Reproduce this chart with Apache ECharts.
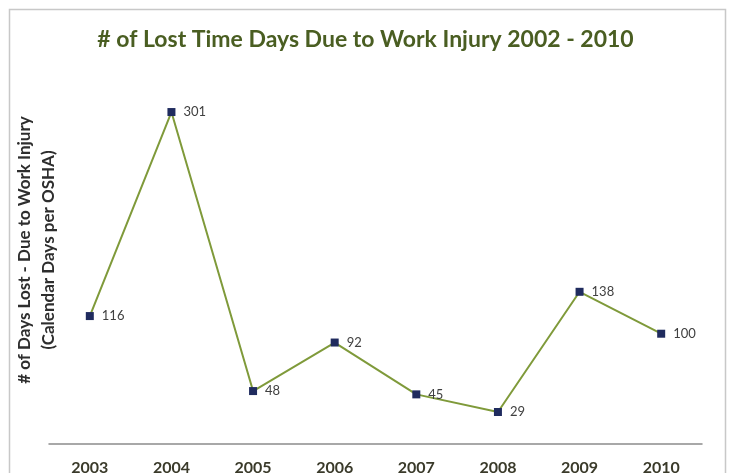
<!DOCTYPE html>
<html>
<head>
<meta charset="utf-8">
<script src="https://cdn.jsdelivr.net/npm/echarts@6/dist/echarts.min.js"></script>
<style>
  html, body { margin: 0; padding: 0; background: #ffffff; }
  #chart { width: 731px; height: 473px; }
</style>
</head>
<body>
<div id="chart"></div>
<script>
// Lost time days per year due to work injury
var years = ['2003', '2004', '2005', '2006', '2007', '2008', '2009', '2010'];
var lostDays = [116, 301, 48, 92, 45, 29, 138, 100];

var chart = echarts.init(document.getElementById('chart'));

chart.setOption({
  backgroundColor: '#ffffff',
  animation: false,
  title: {
    text: '# of Lost Time Days Due to Work Injury 2002 - 2010',
    left: 'center',
    top: 23,
    textStyle: {
      fontFamily: 'Lato',
      fontWeight: 'bold',
      fontSize: 23,
      color: '#4a5e22'
    }
  },
  grid: { left: 49, right: 29, top: 58, bottom: 29, containLabel: false, outerBoundsMode: 'none' },
  xAxis: {
    type: 'category',
    data: years,
    boundaryGap: true,
    axisLine: { lineStyle: { color: '#8c8c8c', width: 1.5 } },
    axisTick: { show: false },
    axisLabel: {
      margin: 16,
      fontFamily: 'Lato',
      fontWeight: 'bold',
      fontSize: 16,
      color: '#3a3a2a'
    }
  },
  yAxis: {
    type: 'value',
    min: 0,
    max: 350,
    axisLine: { show: false },
    axisTick: { show: false },
    axisLabel: { show: false },
    splitLine: { show: false }
  },
  series: [{
    type: 'line',
    data: lostDays,
    symbol: 'rect',
    symbolSize: 8,
    itemStyle: { color: '#1f2b5e' },
    lineStyle: { color: '#7f9a3a', width: 2 },
    label: {
      show: true,
      position: 'right',
      distance: 8,
      fontFamily: 'Lato',
      fontSize: 13,
      color: '#404040'
    }
  }],
  graphic: [{
    // outer frame
    type: 'rect',
    shape: { x: 9.5, y: 9.5, width: 716, height: 480 },
    style: { fill: 'none', stroke: '#c8c8c8', lineWidth: 1.5 },
    silent: true
  }, {
    // y-axis title, first line
    type: 'text',
    x: 25,
    y: 250,
    rotation: Math.PI / 2,
    style: {
      text: '# of Days Lost - Due to Work Injury',
      font: 'bold 17px Lato',
      fill: '#2e2e2e',
      textAlign: 'center',
      textVerticalAlign: 'middle'
    }
  }, {
    // y-axis title, second line
    type: 'text',
    x: 49,
    y: 250,
    rotation: Math.PI / 2,
    style: {
      text: '(Calendar Days per OSHA)',
      font: 'bold 17px Lato',
      fill: '#2e2e2e',
      textAlign: 'center',
      textVerticalAlign: 'middle'
    }
  }]
});
</script>
</body>
</html>
